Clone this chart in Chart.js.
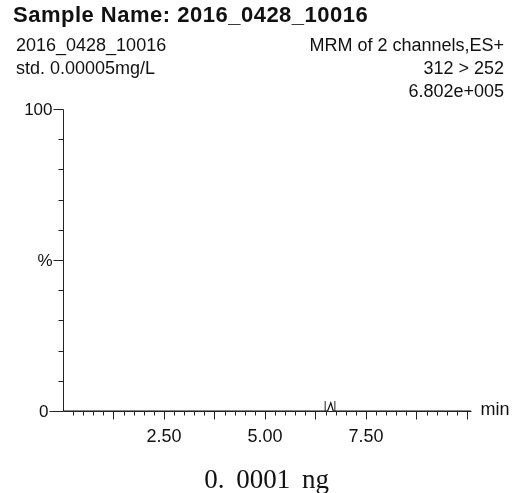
<!DOCTYPE html>
<html>
<head>
<meta charset="utf-8">
<script src="https://cdn.jsdelivr.net/npm/chart.js@4/dist/chart.umd.min.js"></script>
<style>
  html, body { margin: 0; padding: 0; background: #fff; }
  #wrap { position: relative; width: 519px; height: 493px; overflow: hidden; }
  #c { position: absolute; left: 0; top: 0; }
  .t { position: absolute; font-family: "Liberation Sans", Arial, sans-serif; color: #111; white-space: pre; line-height: 1; }
  #title { left: 13px; top: 4px; font-size: 22px; font-weight: bold; letter-spacing: 0.5px; }
  .l { left: 16px; font-size: 18px; }
  .r { right: 15px; font-size: 18px; text-align: right; }
  #cap { position: absolute; left: 0; width: 533px; top: 466px; text-align: center; font-family: "Liberation Serif", "DejaVu Serif", serif; font-size: 27px; color: #111; word-spacing: 5px; white-space: pre; line-height: 1; }
</style>
</head>
<body>
<div id="wrap">
  <canvas id="c" width="519" height="493"></canvas>
  <div class="t" id="title">Sample Name: 2016_0428_10016</div>
  <div class="t l" style="top:36px">2016_0428_10016</div>
  <div class="t l" style="top:59px">std. 0.00005mg/L</div>
  <div class="t r" style="top:36px">MRM of 2 channels,ES+</div>
  <div class="t r" style="top:59px">312 &gt; 252</div>
  <div class="t r" style="top:82px">6.802e+005</div>
  <div id="cap">0. 0001 ng</div>
</div>
<script>
// ---- data ----
const timeMin      = [0.0, 6.55, 6.63, 6.69, 10.1];   // retention time (min)
const intensityPct = [0,   0,    2.7,  0,    0];      // relative intensity (%)
const markerTimes  = [6.49, 6.73];                    // integration markers (min)
const markerHeight = 3.3;                             // marker height (%)
const xLabelValues = [2.5, 5.0, 7.5];
const xTickLabels  = ['2.50', '5.00', '7.50'];
const yLabelValues = [100, 50, 0];
const yTickLabels  = ['100', '%', '0'];
const xAxisUnit    = 'min';
const xMin = 0, xMax = 10.1, yMin = 0, yMax = 100;
const xMinorStep = 0.25, xMajorEvery = 5, yStep = 10;

const trace = timeMin.map((t, i) => ({ x: t, y: intensityPct[i] }));
const markers = [];
markerTimes.forEach((t, i) => {
  if (i > 0) markers.push({ x: t, y: null });
  markers.push({ x: t, y: 0 }, { x: t, y: markerHeight });
});

const axisPlugin = {
  id: 'mlAxes',
  beforeDatasetsDraw(chart) {
    const ctx = chart.ctx, xs = chart.scales.x, ys = chart.scales.y;
    const px = v => Math.round(xs.getPixelForValue(v)) + 0.5;
    const py = v => Math.round(ys.getPixelForValue(v)) + 0.5;
    ctx.save();
    ctx.strokeStyle = '#222';
    ctx.lineWidth = 1;
    ctx.beginPath();
    ctx.moveTo(px(xMin), py(yMax)); ctx.lineTo(px(xMin), py(yMin));
    ctx.moveTo(px(xMin), py(yMin)); ctx.lineTo(px(xMax), py(yMin));
    for (let v = yMin; v <= yMax + 1e-9; v += yStep) {
      const labelled = yLabelValues.includes(v);
      const len = v === 0 ? 14 : (labelled ? 10 : 5);
      ctx.moveTo(px(xMin) - len, py(v)); ctx.lineTo(px(xMin), py(v));
    }
    let k = 1;
    for (let v = xMinorStep; v <= 10 + 1e-9; v += xMinorStep, k++) {
      const len = (k % xMajorEvery === 0) ? 8 : 4;
      ctx.moveTo(px(v), py(yMin)); ctx.lineTo(px(v), py(yMin) + len);
    }
    ctx.stroke();
    ctx.fillStyle = '#111';
    ctx.font = '17px "Liberation Sans", Arial, sans-serif';
    ctx.textAlign = 'right'; ctx.textBaseline = 'middle';
    yLabelValues.forEach((v, i) => {
      const off = v === 0 ? 15 : 11;
      ctx.fillText(yTickLabels[i], px(xMin) - off, py(v) + 1);
    });
    ctx.font = '18px "Liberation Sans", Arial, sans-serif';
    ctx.textAlign = 'center'; ctx.textBaseline = 'top';
    xLabelValues.forEach((v, i) => ctx.fillText(xTickLabels[i], xs.getPixelForValue(v), py(yMin) + 17));
    ctx.textAlign = 'left'; ctx.textBaseline = 'middle';
    ctx.fillText(xAxisUnit, px(xMax) + 9, py(yMin) - 1);
    ctx.restore();
  }
};

new Chart(document.getElementById('c'), {
  type: 'scatter',
  data: {
    datasets: [
      { data: trace, showLine: true, borderColor: '#111', borderWidth: 1.2, pointRadius: 0, tension: 0 },
      { data: markers, showLine: true, spanGaps: false, borderColor: '#222', borderWidth: 1, pointRadius: 0, tension: 0 }
    ]
  },
  options: {
    responsive: false,
    animation: false,
    events: [],
    layout: { padding: { left: 63, right: 48, top: 109, bottom: 82 } },
    plugins: { legend: { display: false }, tooltip: { enabled: false }, title: { display: false } },
    scales: {
      x: { type: 'linear', min: xMin, max: xMax, display: false },
      y: { type: 'linear', min: yMin, max: yMax, display: false }
    }
  },
  plugins: [axisPlugin]
});
</script>
</body>
</html>
